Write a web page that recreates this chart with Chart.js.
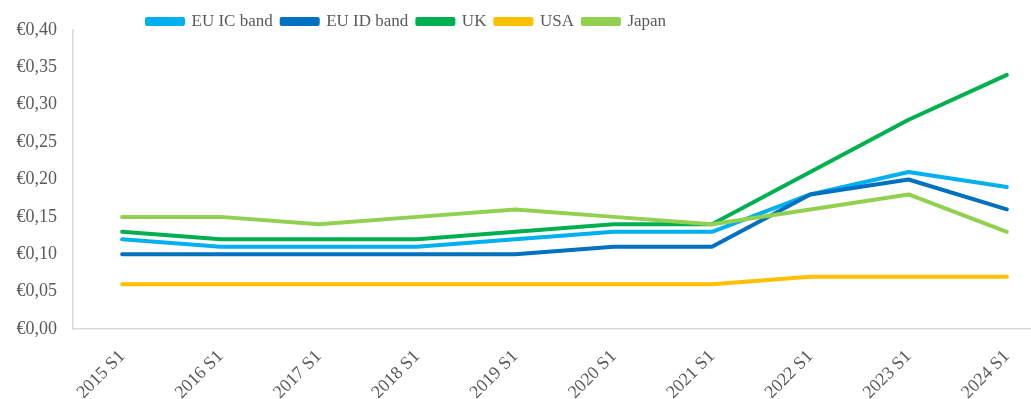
<!DOCTYPE html>
<html>
<head>
<meta charset="utf-8">
<script src="https://cdn.jsdelivr.net/npm/chart.js@4"></script>
<style>
	html, body { margin: 0; padding: 0; background: #fff; overflow: hidden; }
	#wrap { position: relative; width: 1058px; height: 399px; }
</style>
</head>
<body>
<div id="wrap"><canvas id="priceChart"></canvas></div>
<script>
	// categories (half-years)
	var periods = ['2015 S1', '2016 S1', '2017 S1', '2018 S1', '2019 S1', '2020 S1', '2021 S1', '2022 S1', '2023 S1', '2024 S1'];

	// series values, EUR per kWh
	var euIcBand = [0.12, 0.11, 0.11, 0.11, 0.12, 0.13, 0.13, 0.18, 0.21, 0.19];
	var euIdBand = [0.10, 0.10, 0.10, 0.10, 0.10, 0.11, 0.11, 0.18, 0.20, 0.16];
	var uk = [0.13, 0.12, 0.12, 0.12, 0.13, 0.14, 0.14, 0.21, 0.28, 0.34];
	var usa = [0.06, 0.06, 0.06, 0.06, 0.06, 0.06, 0.06, 0.07, 0.07, 0.07];
	var japan = [0.15, 0.15, 0.14, 0.15, 0.16, 0.15, 0.14, 0.16, 0.18, 0.13];

	var seriesNames = ['EU IC band', 'EU ID band', 'UK', 'USA', 'Japan'];
	var seriesColors = ['#00B0F0', '#0070C0', '#00B050', '#FFC000', '#92D050'];

	var textColor = '#595959';
	var fontFamily = "'Liberation Serif', 'Times New Roman', serif";

	function makeDataset(i, values) {
		return {
			label: seriesNames[i],
			data: values,
			borderColor: seriesColors[i],
			backgroundColor: seriesColors[i],
			borderWidth: 4,
			borderCapStyle: 'round',
			borderJoinStyle: 'round',
			pointRadius: 0,
			tension: 0,
			fill: false,
			// later series sit on top, as in the original
			order: 5 - i
		};
	}

	// moves the legend so it sits where the original one did
	var legendShift = {
		id: 'legendShift',
		afterLayout: function (chart) {
			var lg = chart.legend;
			if (lg) {
				lg.left = 138;
				lg.top += 10;
				lg.bottom += 10;
			}
		}
	};

	var ctx = document.getElementById('priceChart').getContext('2d');
	var priceChart = new Chart(ctx, {
		type: 'line',
		data: {
			labels: periods,
			datasets: [
				makeDataset(0, euIcBand),
				makeDataset(1, euIdBand),
				makeDataset(2, uk),
				makeDataset(3, usa),
				makeDataset(4, japan)
			]
		},
		plugins: [legendShift],
		options: {
			responsive: true,
			maintainAspectRatio: false,
			animation: false,
			layout: { padding: { top: -6, right: 2, bottom: 0, left: 0 } },
			plugins: {
				legend: {
					position: 'top',
					align: 'start',
					labels: {
						boxWidth: 36,
						boxHeight: 5,
						padding: 9,
						color: textColor,
						font: { family: fontFamily, size: 17 },
						sort: function (a, b) { return a.datasetIndex - b.datasetIndex; }
					}
				},
				tooltip: { enabled: false }
			},
			scales: {
				x: {
					offset: true,
					grid: { display: false, drawTicks: false },
					border: { display: true, color: '#d9d9d9', width: 1.5 },
					ticks: {
						color: textColor,
						font: { family: fontFamily, size: 18 },
						minRotation: 45,
						maxRotation: 45,
						padding: 17
					},
					afterFit: function (scale) { scale.height = 70; }
				},
				y: {
					min: 0,
					max: 0.4,
					grid: { display: false, drawTicks: false },
					border: { display: true, color: '#d9d9d9', width: 1.5 },
					ticks: {
						stepSize: 0.05,
						color: textColor,
						font: { family: fontFamily, size: 18 },
						padding: 16,
						callback: function (value) {
							return '€' + value.toFixed(2).replace('.', ',');
						}
					},
					afterFit: function (scale) { scale.width = 73; }
				}
			}
		}
	});
</script>
</body>
</html>
